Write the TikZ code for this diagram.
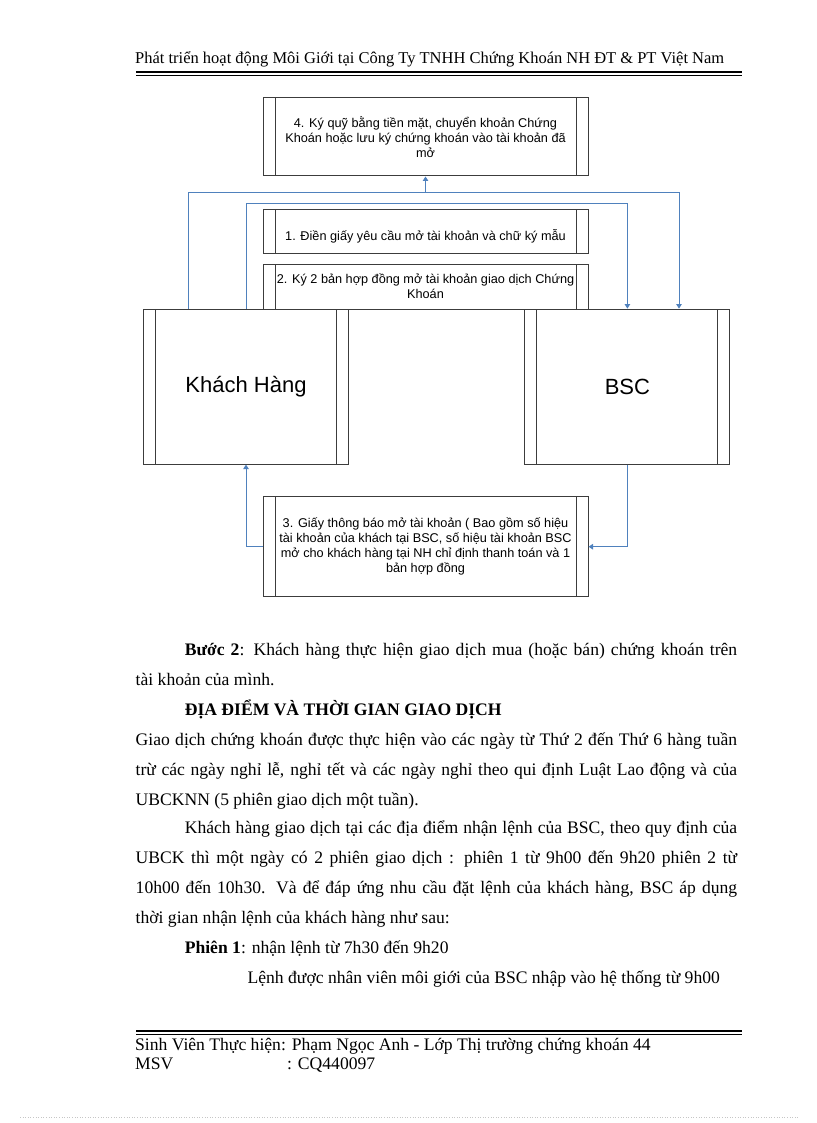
\documentclass[tikz,border=0pt]{standalone}
\usepackage{fontspec}
\setmainfont{Liberation Serif}
\newfontfamily\diagfont{Liberation Sans}
\usepackage{xcolor}
\usepackage{tikz}
\usetikzlibrary{arrows.meta}

\definecolor{linkblue}{RGB}{79,129,189}
\definecolor{boxgray}{RGB}{60,60,60}

\newcommand{\bodyfont}{\fontsize{17.6}{20}\selectfont}
\newcommand{\jline}[2]{\makebox[#1pt][s]{#2}}

\begin{document}
\begin{tikzpicture}[x=1pt,y=-1pt,
	stepbox/.style={draw=boxgray, line width=1pt, fill=white, inner sep=0pt, align=center,
		font=\diagfont\fontsize{12.7}{15}\selectfont,
		path picture={\draw[boxgray, line width=1pt]
			([xshift=12pt]path picture bounding box.north west) -- ([xshift=12pt]path picture bounding box.south west)
			([xshift=-12pt]path picture bounding box.north east) -- ([xshift=-12pt]path picture bounding box.south east);}},
	party/.style={stepbox, minimum width=205pt, minimum height=155pt, font=\diagfont\fontsize{22}{26}\selectfont},
	link/.style={draw=linkblue, line width=1pt, -{Triangle[length=4.5pt,width=5.5pt]}},
	body/.style={anchor=base west, inner sep=0pt, font=\bodyfont}]
	\useasboundingbox (0,0) rectangle (816,1123);
	
	% header
	\node[body, font=\fontsize{16.5}{20}\selectfont] (header) at (135,63.3)
		{\jline{589}{Phát triển hoạt động Môi Giới tại Công Ty TNHH Chứng Khoán NH ĐT \& PT Việt Nam}};
	\draw[line width=2.4pt] (136,72.3) -- (742,72.3);
	\draw[line width=0.8pt] (136,75.3) -- (742,75.3);
	
	% boxes
	\node[stepbox, minimum width=325pt, minimum height=78pt] (quy) at (425.5,137)
		{4. Ký quỹ bằng tiền mặt, chuyển khoản Chứng\\Khoán hoặc lưu ký chứng khoán vào tài khoản đã\\mở};
	\node[stepbox, minimum width=325pt, minimum height=44pt] (dien) at (425.5,231.3)
		{\raisebox{-9pt}[0pt][0pt]{1. Điền giấy yêu cầu mở tài khoản và chữ ký mẫu}};
	\node[stepbox, minimum width=325pt, minimum height=45pt] (hopdong) at (425.5,286.6)
		{2. Ký 2 bản hợp đồng mở tài khoản giao dịch Chứng\\Khoán};
	\node[party] (khach) at (246,386.6) {Khách Hàng};
	\node[party] (bsc) at (627.4,386.6) {BSC};
	\node[stepbox, minimum width=325pt, minimum height=100pt] (thongbao) at (425.5,546.7)
		{3. Giấy thông báo mở tài khoản ( Bao gồm số hiệu\\tài khoản của khách tại BSC, số hiệu tài khoản BSC\\mở cho khách hàng tại NH chỉ định thanh toán và 1\\bản hợp đồng};
	
	% connectors
	\coordinate (outerL) at (188.5,192.3);
	\coordinate (outerR) at (679,192.3);
	\coordinate (innerL) at (246,203.3);
	\coordinate (innerR) at (627.4,203.3);
	\draw[link] (khach.north -| outerL) -- (outerL) -- (outerR) -- (bsc.north -| outerR);
	\draw[link] (quy.south |- outerL) -- (quy.south);
	\draw[link] (khach.north) -- (innerL) -- (innerR) -- (bsc.north);
	\draw[link] (bsc.south) |- (thongbao.east);
	\draw[link] (thongbao.west) -| (khach.south);
	
	% text below
	\node[body] (buoc) at (184.6,655) {\jline{552.4}{\textbf{Bước 2}: Khách hàng thực hiện giao dịch mua (hoặc bán) chứng khoán trên}};
	\node[body] (tk) at (135.5,685) {tài khoản của mình.};
	\node[body] (diadiem) at (184.6,715) {\textbf{ĐỊA ĐIỂM VÀ THỜI GIAN GIAO DỊCH}};
	\node[body] (gd1) at (135.5,745) {\jline{601.5}{Giao dịch chứng khoán được thực hiện vào các ngày từ Thứ 2 đến Thứ 6 hàng tuần}};
	\node[body] (gd2) at (135.5,775) {\jline{601.5}{trừ các ngày nghỉ lễ, nghỉ tết và các ngày nghỉ theo qui định Luật Lao động và của}};
	\node[body] (gd3) at (135.5,805) {UBCKNN\ (5 phiên giao dịch một tuần).};
	\node[body] (kh1) at (184.6,833) {\jline{552.4}{Khách hàng giao dịch tại các địa điểm nhận lệnh của BSC, theo quy định của}};
	\node[body] (kh2) at (135.5,863) {\jline{601.5}{UBCK thì một ngày có 2 phiên giao dịch : phiên 1 từ 9h00 đến 9h20 phiên 2 từ}};
	\node[body] (kh3) at (135.5,893) {\jline{601.5}{10h00 đến 10h30. Và để đáp ứng nhu cầu đặt lệnh của khách hàng, BSC áp dụng}};
	\node[body] (kh4) at (135.5,923) {thời gian nhận lệnh của khách hàng như sau:};
	\node[body] (phien) at (184.6,953) {\textbf{Phiên 1}: nhận lệnh từ 7h30 đến 9h20};
	\node[body] (lenh) at (247.4,983) {Lệnh được nhân viên môi giới của BSC nhập vào hệ thống từ 9h00};
	
	% footer
	\draw[line width=2.4pt] (136,1031) -- (742,1031);
	\draw[line width=0.8pt] (136,1034.2) -- (742,1034.2);
	\node[body] (sv) at (135,1050) {Sinh Viên Thực hiện: Phạm Ngọc Anh - Lớp Thị trường chứng khoán 44};
	\node[body] (msv) at (135,1069) {MSV};
	\node[body] (msvso) at (287,1069) {: CQ440097};
	\draw[gray!45, dotted, line width=0.6pt] (20,1117) -- (798,1117);
\end{tikzpicture}
\end{document}
